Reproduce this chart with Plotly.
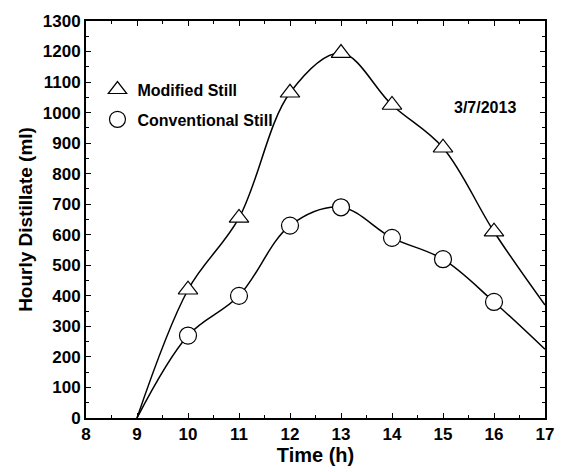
import plotly.graph_objects as go

hours = [9, 10, 11, 12, 13, 14, 15, 16, 17]
modified = [0, 420, 655, 1065, 1195, 1025, 885, 610, 370]
conventional = [0, 270, 400, 630, 690, 590, 520, 380, 225]
marker_hours = [10, 11, 12, 13, 14, 15, 16]
modified_m = [420, 655, 1065, 1195, 1025, 885, 610]
conventional_m = [270, 400, 630, 690, 590, 520, 380]

FONT = "Liberation Sans, Arial, sans-serif"

fig = go.Figure()
fig.add_trace(go.Scatter(x=hours, y=modified, mode="lines",
                         line=dict(color="black", width=1.5, shape="spline", smoothing=1.0),
                         showlegend=False, hoverinfo="skip"))
fig.add_trace(go.Scatter(x=hours, y=conventional, mode="lines",
                         line=dict(color="black", width=1.5, shape="spline", smoothing=1.0),
                         showlegend=False, hoverinfo="skip"))
fig.add_trace(go.Scatter(x=marker_hours, y=modified_m, mode="markers",
                         name="<b>Modified Still</b>", legendgroup="a",
                         marker=dict(symbol="triangle-up", size=17, color="white",
                                     line=dict(color="black", width=1.2))))
fig.add_trace(go.Scatter(x=marker_hours, y=conventional_m, mode="markers",
                         name="<b>Conventional Still</b>", legendgroup="b",
                         marker=dict(symbol="circle", size=17, color="white",
                                     line=dict(color="black", width=1.2))))

fig.add_annotation(x=15.82, y=1016, text="<b>3/7/2013</b>", showarrow=False,
                   font=dict(family=FONT, size=16, color="black"))

axis_common = dict(showgrid=False, zeroline=False, showline=True, linecolor="black",
                   linewidth=2, mirror="allticks", ticks="inside", ticklen=5, tickwidth=1,
                   tickcolor="black", tickfont=dict(family=FONT, size=17, color="black"))

fig.update_xaxes(range=[8, 17], tickmode="array", tickvals=list(range(8, 18)),
                 ticktext=[f"<b>{v}</b>" for v in range(8, 18)],
                 minor=dict(ticks="inside", ticklen=3, dtick=0.5, tickcolor="black"),
                 title=dict(text="<b>Time (h)</b>", font=dict(family=FONT, size=20, color="black"),
                            standoff=0),
                 **axis_common)
fig.update_yaxes(range=[0, 1300], tickmode="array", tickvals=list(range(0, 1301, 100)),
                 ticktext=[f"<b>{v}</b>" for v in range(0, 1301, 100)],
                 minor=dict(ticks="inside", ticklen=3, dtick=50, tickcolor="black"),
                 title=dict(text="<b>Hourly Distillate (ml)</b>",
                            font=dict(family=FONT, size=19, color="black"), standoff=5),
                 **axis_common)

fig.update_layout(width=566, height=472, plot_bgcolor="white", paper_bgcolor="white",
                  margin=dict(l=86, r=17, t=15, b=54),
                  legend=dict(x=0.025, y=0.87, xanchor="left", yanchor="top",
                              bgcolor="rgba(0,0,0,0)", itemwidth=30, tracegroupgap=6,
                              font=dict(family=FONT, size=16, color="black")),
                  font=dict(family=FONT))

fig.write_html("out.html", config={"displayModeBar": False},
               post_script="document.body.style.margin='0';")
